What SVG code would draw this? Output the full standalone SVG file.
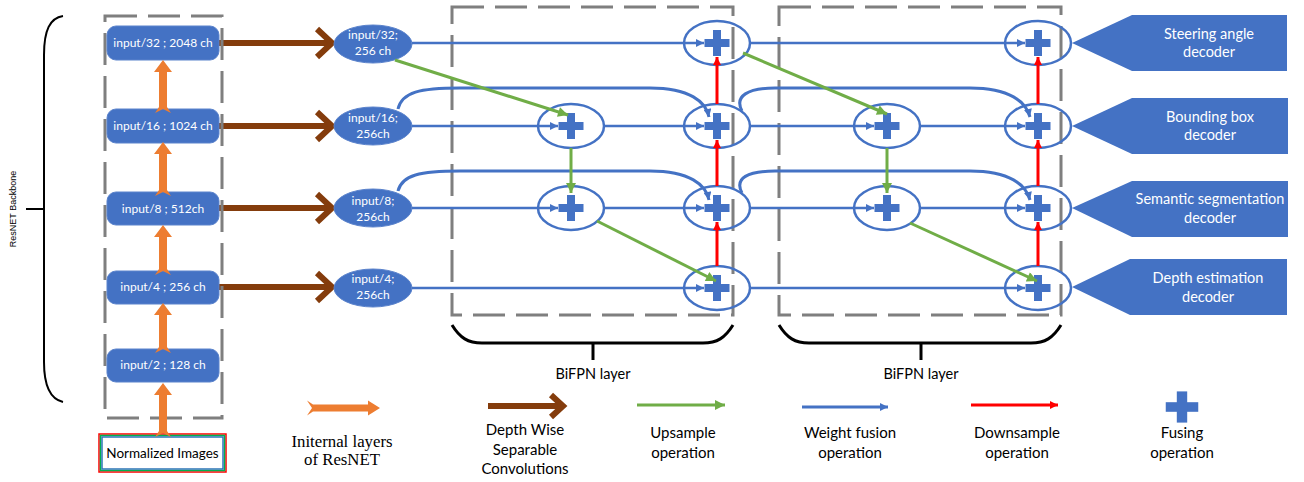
<svg xmlns="http://www.w3.org/2000/svg" xmlns:xlink="http://www.w3.org/1999/xlink" width="1304" height="482" viewBox="0 0 1304 482">
  <style>
    .dash { fill: none; stroke: #7f7f7f; stroke-width: 3; stroke-dasharray: 32 11; }
    .bbox { fill: #4472c4; stroke: #5b83cc; stroke-width: 1; }
    .btxt { fill: #ffffff; font-family: Lato, "Open Sans", sans-serif; font-size: 12px; text-anchor: middle; }
    .etxt { fill: #ffffff; font-family: Lato, "Open Sans", sans-serif; font-size: 12px; text-anchor: middle; }
    .inell { fill: #4472c4; stroke: #5b83cc; stroke-width: 1; }
    .fnode { fill: none; stroke: #4472c4; stroke-width: 2.5; }
    .plus { fill: #4472c4; }
    .wf { fill: none; stroke: #4472c4; stroke-width: 2.5; marker-end: url(#ahBlue); }
    .skip { fill: none; stroke: #4472c4; stroke-width: 3; marker-end: url(#ahBlue); }
    .up { fill: none; stroke: #70ad47; stroke-width: 3; marker-end: url(#ahGreen); }
    .down { fill: none; stroke: #ff0000; stroke-width: 3; marker-end: url(#ahRed); }
    .dw { fill: none; stroke: #843c0c; stroke-width: 6; }
    .res { fill: #ed7d31; }
    .dec { fill: #4472c4; }
    .dtxt { fill: #ffffff; font-family: Lato, "Open Sans", sans-serif; font-size: 14.5px; text-anchor: middle; }
    .brace { fill: none; stroke: #000000; stroke-width: 3; }
    .lbl { fill: #000000; font-family: Lato, "Open Sans", sans-serif; font-size: 15px; text-anchor: middle; }
    .serif { fill: #000000; font-family: "Liberation Serif", serif; font-size: 16.8px; text-anchor: middle; }
  </style>
  <defs>
    <marker id="ahBlue" viewBox="0 0 10 10" refX="10" refY="5" markerWidth="9" markerHeight="8" markerUnits="userSpaceOnUse" orient="auto">
      <path d="M0,0 L10,5 L0,10 z" fill="#4472c4"/>
    </marker>
    <marker id="ahGreen" viewBox="0 0 10 10" refX="10" refY="5" markerWidth="11" markerHeight="10" markerUnits="userSpaceOnUse" orient="auto">
      <path d="M0,0 L10,5 L0,10 z" fill="#70ad47"/>
    </marker>
    <marker id="ahRed" viewBox="0 0 10 10" refX="10" refY="5" markerWidth="10" markerHeight="8" markerUnits="userSpaceOnUse" orient="auto">
      <path d="M0,0 L10,5 L0,10 z" fill="#ff0000"/>
    </marker>
    <g id="plusSign" class="plus">
      <rect x="-12.5" y="-4" width="25" height="8"/>
      <rect x="-4" y="-13" width="8" height="26"/>
    </g>
  </defs>

  <rect width="1304" height="482" fill="#ffffff"/>

  <!-- backbone brace and label -->
  <g id="backbone-brace">
    <path class="brace" style="stroke-width:2" d="M63,16 C50,18 44,30 44,55 L44,362 C44,386 50,399 63,402"/>
    <line x1="26" y1="209" x2="44" y2="209" stroke="#000" stroke-width="2"/>
    <text transform="translate(16,209) rotate(-90)" text-anchor="middle" font-family="Liberation Sans, Arial, sans-serif" font-size="9">ResNET Backbone</text>
  </g>

  <!-- depth-wise separable convolution arrows (backbone -> BiFPN inputs) -->
  <g id="dw-arrows">
    <line class="dw" x1="219" y1="43" x2="330" y2="43"/>
    <polyline class="dw" points="317,29 332,43 317,57"/>
    <line class="dw" x1="219" y1="126" x2="330" y2="126"/>
    <polyline class="dw" points="317,112 332,126 317,140"/>
    <line class="dw" x1="219" y1="208" x2="330" y2="208"/>
    <polyline class="dw" points="317,194 332,208 317,222"/>
    <line class="dw" x1="219" y1="287" x2="330" y2="287"/>
    <polyline class="dw" points="317,273 332,287 317,301"/>
  </g>

  <!-- dashed frames -->
  <rect class="dash" x="105" y="16" width="117" height="402"/>
  <rect class="dash" x="452" y="7" width="281" height="308"/>
  <rect class="dash" x="779" y="7" width="282" height="308"/>

  <!-- ResNet stages -->
  <g id="stage-32">
    <rect class="bbox" x="107" y="26" width="112" height="34" rx="9"/>
    <text class="btxt" x="163" y="47">input/32 ; 2048 ch</text>
  </g>
  <g id="stage-16">
    <rect class="bbox" x="107" y="109" width="112" height="34" rx="9"/>
    <text class="btxt" x="163" y="130">input/16 ; 1024 ch</text>
  </g>
  <g id="stage-8">
    <rect class="bbox" x="107" y="192" width="112" height="33" rx="9"/>
    <text class="btxt" x="163" y="213">input/8 ; 512ch</text>
  </g>
  <g id="stage-4">
    <rect class="bbox" x="107" y="271" width="112" height="33" rx="9"/>
    <text class="btxt" x="163" y="291">input/4 ; 256 ch</text>
  </g>
  <g id="stage-2">
    <rect class="bbox" x="107" y="349" width="112" height="33" rx="9"/>
    <text class="btxt" x="163" y="369">input/2 ; 128 ch</text>
  </g>
  <g id="normalized-images">
    <rect x="99" y="434" width="127" height="38" fill="none" stroke="#ff0000" stroke-width="1.5"/>
    <rect x="100.5" y="435.5" width="124" height="35" fill="none" stroke="#00b050" stroke-width="1.5"/>
    <rect x="102" y="437" width="121" height="32" fill="#ffffff" stroke="#2e75b6" stroke-width="1.5"/>
    <text x="162.5" y="458" text-anchor="middle" font-family="Lato, 'Open Sans', sans-serif" font-size="13.5">Normalized Images</text>
  </g>

  <!-- internal ResNet layer arrows -->
  <g id="resnet-arrows">
    <path class="res" d="M163,60 L172,72 L167,72 L167,107 L171,113 L163,109 L155,113 L159,107 L159,72 L154,72 Z"/>
    <path class="res" d="M163,142 L172,154 L167,154 L167,190 L171,196 L163,192 L155,196 L159,190 L159,154 L154,154 Z"/>
    <path class="res" d="M163,225 L172,237 L167,237 L167,269 L171,275 L163,271 L155,275 L159,269 L159,237 L154,237 Z"/>
    <path class="res" d="M163,303 L172,315 L167,315 L167,347 L171,353 L163,349 L155,353 L159,347 L159,315 L154,315 Z"/>
    <path class="res" d="M163,383 L172,395 L167,395 L167,431 L171,437 L163,433 L155,437 L159,431 L159,395 L154,395 Z"/>
  </g>

  <!-- BiFPN inputs -->
  <g id="in-32">
    <ellipse class="inell" cx="373" cy="44" rx="39" ry="19"/>
    <text class="etxt" x="373" y="39">input/32;</text>
    <text class="etxt" x="373" y="55">256 ch</text>
  </g>
  <g id="in-16">
    <ellipse class="inell" cx="373" cy="126" rx="39" ry="19"/>
    <text class="etxt" x="373" y="122">input/16;</text>
    <text class="etxt" x="373" y="138">256ch</text>
  </g>
  <g id="in-8">
    <ellipse class="inell" cx="373" cy="208" rx="39" ry="19"/>
    <text class="etxt" x="373" y="205">input/8;</text>
    <text class="etxt" x="373" y="221">256ch</text>
  </g>
  <g id="in-4">
    <ellipse class="inell" cx="373" cy="288" rx="39" ry="19"/>
    <text class="etxt" x="373" y="283">input/4;</text>
    <text class="etxt" x="373" y="299">256ch</text>
  </g>

  <!-- fusion nodes, BiFPN layer 1 -->
  <g id="l1-a-16"><ellipse class="fnode" cx="571" cy="126" rx="33" ry="22"/><use xlink:href="#plusSign" x="571" y="126"/></g>
  <g id="l1-a-8"><ellipse class="fnode" cx="571" cy="208" rx="33" ry="22"/><use xlink:href="#plusSign" x="571" y="208"/></g>
  <g id="l1-b-32"><ellipse class="fnode" cx="717" cy="43" rx="33" ry="22"/><use xlink:href="#plusSign" x="717" y="43"/></g>
  <g id="l1-b-16"><ellipse class="fnode" cx="717" cy="126" rx="33" ry="22"/><use xlink:href="#plusSign" x="717" y="126"/></g>
  <g id="l1-b-8"><ellipse class="fnode" cx="717" cy="208" rx="33" ry="22"/><use xlink:href="#plusSign" x="717" y="208"/></g>
  <g id="l1-b-4"><ellipse class="fnode" cx="717" cy="288" rx="33" ry="22"/><use xlink:href="#plusSign" x="717" y="288"/></g>

  <!-- fusion nodes, BiFPN layer 2 -->
  <g id="l2-a-16"><ellipse class="fnode" cx="887" cy="126" rx="33" ry="22"/><use xlink:href="#plusSign" x="887" y="126"/></g>
  <g id="l2-a-8"><ellipse class="fnode" cx="887" cy="208" rx="33" ry="22"/><use xlink:href="#plusSign" x="887" y="208"/></g>
  <g id="l2-b-32"><ellipse class="fnode" cx="1038" cy="43" rx="33" ry="22"/><use xlink:href="#plusSign" x="1038" y="43"/></g>
  <g id="l2-b-16"><ellipse class="fnode" cx="1038" cy="126" rx="33" ry="22"/><use xlink:href="#plusSign" x="1038" y="126"/></g>
  <g id="l2-b-8"><ellipse class="fnode" cx="1038" cy="208" rx="33" ry="22"/><use xlink:href="#plusSign" x="1038" y="208"/></g>
  <g id="l2-b-4"><ellipse class="fnode" cx="1038" cy="288" rx="33" ry="22"/><use xlink:href="#plusSign" x="1038" y="288"/></g>

  <!-- connectors -->
  <g id="connectors">
    <!-- weight fusion -->
    <line class="wf" x1="412" y1="43" x2="704" y2="43"/>
    <line class="wf" x1="412" y1="126" x2="558" y2="126"/>
    <line class="wf" x1="604" y1="126" x2="704" y2="126"/>
    <line class="wf" x1="412" y1="208" x2="558" y2="208"/>
    <line class="wf" x1="604" y1="208" x2="704" y2="208"/>
    <line class="wf" x1="412" y1="288" x2="704" y2="288"/>
    <line class="wf" x1="750" y1="43" x2="1025" y2="43"/>
    <line class="wf" x1="750" y1="126" x2="874" y2="126"/>
    <line class="wf" x1="920" y1="126" x2="1025" y2="126"/>
    <line class="wf" x1="750" y1="208" x2="874" y2="208"/>
    <line class="wf" x1="920" y1="208" x2="1025" y2="208"/>
    <line class="wf" x1="750" y1="288" x2="1025" y2="288"/>
    <!-- skip connections -->
    <path class="skip" d="M398,109 C402,92 420,88 460,88 L650,88 C690,88 706,102 709,117"/>
    <path class="skip" d="M398,191 C402,175 420,171 460,171 L650,171 C690,171 706,185 709,200"/>
    <path class="skip" d="M742,111 C734,96 748,88 775,88 L970,88 C1010,88 1026,102 1030,117"/>
    <path class="skip" d="M742,193 C734,178 748,171 775,171 L970,171 C1010,171 1026,185 1030,200"/>
    <!-- upsample -->
    <line class="up" x1="395" y1="60" x2="568" y2="115"/>
    <line class="up" x1="571" y1="148" x2="571" y2="193"/>
    <line class="up" x1="597" y1="221" x2="716" y2="281"/>
    <line class="up" x1="743" y1="53" x2="887" y2="114"/>
    <line class="up" x1="887" y1="148" x2="887" y2="193"/>
    <line class="up" x1="910" y1="223" x2="1037" y2="281"/>
    <!-- downsample -->
    <line class="down" x1="717" y1="266" x2="717" y2="222"/>
    <line class="down" x1="717" y1="186" x2="717" y2="140"/>
    <line class="down" x1="717" y1="104" x2="717" y2="57"/>
    <line class="down" x1="1038" y1="266" x2="1038" y2="222"/>
    <line class="down" x1="1038" y1="186" x2="1038" y2="140"/>
    <line class="down" x1="1038" y1="104" x2="1038" y2="57"/>
  </g>

  <!-- decoders -->
  <g id="steering-decoder">
    <polygon class="dec" points="1072,43 1132,15 1287,15 1287,71 1132,71"/>
    <text class="dtxt" x="1209" y="39">Steering angle</text>
    <text class="dtxt" x="1209" y="57">decoder</text>
  </g>
  <g id="bbox-decoder">
    <polygon class="dec" points="1072,126 1132,98 1288,98 1288,154 1132,154"/>
    <text class="dtxt" x="1210" y="122">Bounding box</text>
    <text class="dtxt" x="1210" y="140">decoder</text>
  </g>
  <g id="segmentation-decoder">
    <polygon class="dec" points="1072,208 1132,181 1288,181 1288,237 1132,237"/>
    <text class="dtxt" x="1210" y="204">Semantic segmentation</text>
    <text class="dtxt" x="1210" y="223">decoder</text>
  </g>
  <g id="depth-decoder">
    <polygon class="dec" points="1072,287 1130,259 1287,259 1287,315 1130,315"/>
    <text class="dtxt" x="1208" y="283">Depth estimation</text>
    <text class="dtxt" x="1208" y="302">decoder</text>
  </g>

  <!-- BiFPN layer braces -->
  <g id="bifpn-brace-1">
    <path class="brace" d="M452,325 C460,338 468,343 482,343 L703,343 C717,343 725,338 733,325"/>
    <line x1="593" y1="343" x2="593" y2="360" stroke="#000" stroke-width="3"/>
    <text class="lbl" x="593" y="379" style="font-size:14.5px">BiFPN layer</text>
  </g>
  <g id="bifpn-brace-2">
    <path class="brace" d="M779,325 C787,338 795,343 809,343 L1031,343 C1045,343 1053,338 1061,325"/>
    <line x1="921" y1="343" x2="921" y2="360" stroke="#000" stroke-width="3"/>
    <text class="lbl" x="921" y="379" style="font-size:14.5px">BiFPN layer</text>
  </g>

  <!-- legend -->
  <g id="legend">
    <path class="res" d="M380,408 L368,400.5 L368,404.5 L313,404.5 L307,400.5 L312,408 L307,415.5 L313,411.5 L368,411.5 L368,415.5 Z"/>
    <text class="serif" x="342" y="447">Initernal layers</text>
    <text class="serif" x="342" y="465">of ResNET</text>

    <line class="dw" x1="488" y1="406" x2="562" y2="406"/>
    <polyline class="dw" points="551,395 563,406 551,417"/>
    <text class="lbl" x="525" y="435">Depth Wise</text>
    <text class="lbl" x="525" y="455">Separable</text>
    <text class="lbl" x="525" y="474">Convolutions</text>

    <line class="up" x1="637" y1="405" x2="725" y2="405"/>
    <text class="lbl" x="683" y="438">Upsample</text>
    <text class="lbl" x="683" y="458">operation</text>

    <line class="wf" x1="802" y1="407" x2="888" y2="407" style="stroke-width:3"/>
    <text class="lbl" x="850" y="438">Weight fusion</text>
    <text class="lbl" x="850" y="458">operation</text>

    <line class="down" x1="971" y1="405" x2="1058" y2="405"/>
    <text class="lbl" x="1017" y="438">Downsample</text>
    <text class="lbl" x="1017" y="458">operation</text>

    <use xlink:href="#plusSign" transform="translate(1182,407) scale(1.3,1.2)"/>
    <text class="lbl" x="1182" y="438">Fusing</text>
    <text class="lbl" x="1182" y="458">operation</text>
  </g>
</svg>
